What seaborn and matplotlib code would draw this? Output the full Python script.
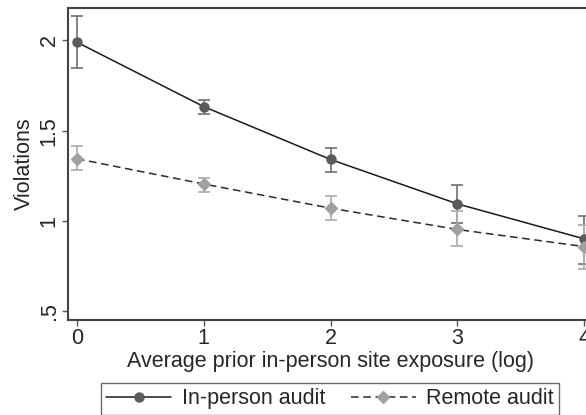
import matplotlib
matplotlib.use("Agg")
import matplotlib.pyplot as plt
import seaborn as sns
import pandas as pd
import numpy as np

exposure = [0, 1, 2, 3, 4]
inperson = [1.99, 1.633, 1.34, 1.094, 0.90]
inperson_lo = [1.85, 1.595, 1.27, 0.99, 0.76]
inperson_hi = [2.135, 1.67, 1.405, 1.20, 1.024]
remote = [1.344, 1.204, 1.07, 0.952, 0.857]
remote_lo = [1.283, 1.162, 1.004, 0.86, 0.735]
remote_hi = [1.413, 1.24, 1.139, 1.057, 0.978]
series_names = ["In-person audit", "Remote audit"]
ytick_vals = [0.5, 1, 1.5, 2]
ytick_labels = [".5", "1", "1.5", "2"]
xlabel = "Average prior in-person site exposure (log)"
ylabel = "Violations"

sns.set_style("ticks")
plt.rcParams['font.family'] = ['Liberation Sans', 'DejaVu Sans']

df = pd.DataFrame({
    "x": exposure * 2,
    "y": inperson + remote,
    "lo": inperson_lo + remote_lo,
    "hi": inperson_hi + remote_hi,
    "group": [series_names[0]] * 5 + [series_names[1]] * 5,
})

FS = 15.5
fig = plt.figure(figsize=(5.86, 4.15), dpi=100)
ax = fig.add_axes([68/586, 1-320/415, (593-68)/586, (320-8)/415])

mcolors = {series_names[0]: "#5a5a5a", series_names[1]: "#a0a0a0"}
ecolors = {series_names[0]: "#7a7a7a", series_names[1]: "#b0b0b0"}
for g in series_names:
    d = df[df.group == g]
    ax.errorbar(d.x, d.y, yerr=[d.y - d.lo, d.hi - d.y], fmt="none",
                ecolor=ecolors[g], elinewidth=1.3, capsize=4, capthick=1.3, zorder=2)

sns.lineplot(data=df, x="x", y="y", hue="group", style="group",
             palette={series_names[0]: "#1a1a1a", series_names[1]: "#2a2a2a"},
             dashes={series_names[0]: "", series_names[1]: (5, 3)},
             markers=False, linewidth=1.1, ax=ax, legend=False, zorder=3)
ax.plot(df[df.group == series_names[0]].x, df[df.group == series_names[0]].y, "o",
        color=mcolors[series_names[0]], ms=6.5, zorder=4)
ax.plot(df[df.group == series_names[1]].x, df[df.group == series_names[1]].y, "D",
        color=mcolors[series_names[1]], ms=6, zorder=4)

ax.set_xlim(-0.0713, 4.07)
ax.set_ylim(0.45, 2.18)
ax.set_xticks(exposure)
ax.set_xticklabels([str(v) for v in exposure])
ax.set_yticks(ytick_vals)
ax.set_yticklabels(ytick_labels, rotation=90, va="center")
ax.tick_params(axis="both", labelsize=FS, length=4, width=1, color="#555555", pad=2)
ax.set_xlabel(xlabel, fontsize=FS, labelpad=1)
ax.set_ylabel(ylabel, fontsize=FS, labelpad=3)
for s in ax.spines.values():
    s.set_color("#444444")
    s.set_linewidth(1.5)

from matplotlib.lines import Line2D
handles = [
    Line2D([], [], color="#1a1a1a", lw=1.1, marker="o", markerfacecolor=mcolors[series_names[0]],
           markeredgecolor=mcolors[series_names[0]], ms=6.5),
    Line2D([], [], color="#2a2a2a", lw=1.1, ls=(0, (5, 3)), marker="D",
           markerfacecolor=mcolors[series_names[1]], markeredgecolor=mcolors[series_names[1]], ms=6),
]
leg = fig.legend(handles, series_names, loc="upper left", bbox_to_anchor=(101/586, 1-383/415),
                 ncol=2, fontsize=FS, frameon=True, fancybox=False, handlelength=3.0,
                 columnspacing=1.2, borderpad=0.25, handletextpad=0.5, borderaxespad=0)
leg.get_frame().set_edgecolor("#444444")
leg.get_frame().set_linewidth(1.0)

fig.savefig("out.png", dpi=100)
